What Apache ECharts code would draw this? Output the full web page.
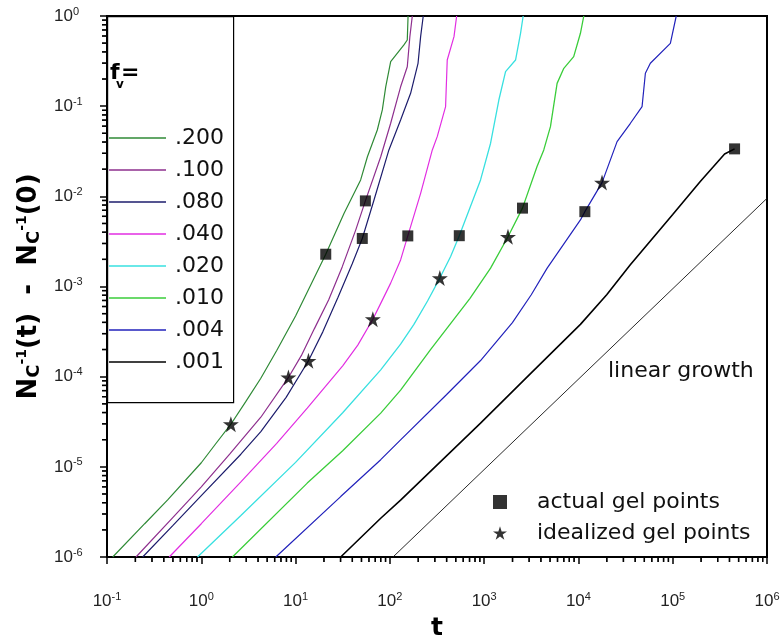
<!DOCTYPE html>
<html><head><meta charset="utf-8">
<script src="https://cdn.jsdelivr.net/npm/echarts@6/dist/echarts.min.js"></script>
<style>html,body{margin:0;padding:0;background:#fff}#c{width:784px;height:642px}</style>
</head><body><div id="c"></div>
<script>
// ---- data (t, N_c^-1(t) - N_c^-1(0)) ----
const seriesNames = ['.200', '.100', '.080', '.040', '.020', '.010', '.004', '.001'];
const f200 = [[0.115,1e-6],[0.251,2.34e-6],[0.44,4.3e-6],[1.0,1.11e-5],[1.41,1.78e-5],[2.06,2.97e-5],[2.95,5.25e-5],[4.28,9.6e-5],[6.31,1.95e-4],[10,4.7e-4],[20.9,2.28e-3],[32.7,6.5e-3],[49,0.0152],[57.8,0.0275],[73.6,0.0544],[83.2,0.0908],[90.4,0.164],[102,0.311],[141,0.478],[153,0.542],[156,1.0]];
const f100 = [[0.203,1e-6],[0.501,2.75e-6],[1.0,6.0e-6],[2.0,1.38e-5],[4.28,3.55e-5],[8.4,9.8e-5],[11.5,1.71e-4],[15.8,3.39e-4],[22.4,7.1e-4],[31.3,1.66e-3],[43.5,4.25e-3],[55,8.9e-3],[80,0.0275],[102,0.0646],[130,0.164],[153,0.274],[163,0.59],[173,1.0]];
const f080 = [[0.239,1e-6],[0.501,2.24e-6],[1.0,4.8e-6],[2.63,1.38e-5],[4.28,2.46e-5],[7.94,5.9e-5],[13.7,1.5e-4],[19.5,3.16e-4],[28.2,7.6e-4],[39.8,1.78e-3],[51,3.41e-3],[67.9,9.1e-3],[97.7,0.0327],[130,0.0703],[166,0.139],[199,0.299],[212,0.59],[226,1.0]];
const f040 = [[0.457,1e-6],[1.0,2.34e-6],[2.63,6.8e-6],[6.31,1.82e-5],[13.3,4.47e-5],[31.6,1.32e-4],[45.7,2.24e-4],[66,4.34e-4],[80,6.5e-4],[102,1.09e-3],[130,1.97e-3],[155,3.64e-3],[212,0.0108],[282,0.0327],[318,0.0459],[390,0.0989],[406,0.325],[479,0.59],[511,1.0]];
const f020 = [[0.912,1e-6],[2.63,2.88e-6],[10,1.12e-5],[31.6,3.98e-5],[80,1.19e-4],[130,2.29e-4],[180,3.8e-4],[251,6.9e-4],[339,1.24e-3],[441,2.15e-3],[545,3.66e-3],[916,0.0152],[1170,0.0388],[1432,0.117],[1687,0.242],[2153,0.325],[2432,0.643],[2594,1.0]];
const f010 = [[2.14,1e-6],[13.3,6.6e-6],[31.6,1.51e-5],[80,3.94e-5],[130,7.1e-5],[270,2.0e-4],[708,7.4e-4],[1170,1.6e-3],[1790,3.56e-3],[2550,7.4e-3],[3640,0.0214],[4290,0.0327],[5050,0.0593],[5940,0.179],[7000,0.263],[8910,0.354],[10500,0.643],[11400,1.0]];
const f004 = [[6.17,1e-6],[30.1,4.68e-6],[80,1.2e-5],[130,1.99e-5],[398,6.3e-5],[916,1.51e-4],[1995,3.98e-4],[3160,8.1e-4],[4660,1.6e-3],[10500,5.47e-3],[11700,6.76e-3],[17800,0.0142],[25700,0.0404],[35600,0.0646],[47300,0.0989],[51300,0.232],[57900,0.299],[94400,0.498],[109000,1.0]];
const f001 = [[30.1,1e-6],[80,2.69e-6],[130,4.27e-6],[916,3.05e-5],[3160,1.1e-4],[10500,3.8e-4],[19950,8.1e-4],[35500,1.74e-3],[1e5,6.3e-3],[1.96e5,0.0146],[2.71e5,0.0214],[3.55e5,0.0295],[4.53e5,0.0336]];
const linearGrowth = [[108,1e-6],[1e6,9.5e-3]];
const actualGel = [[20.9,2.28e-3],[55,8.9e-3],[51,3.41e-3],[155,3.64e-3],[545,3.66e-3],[2550,7.4e-3],[11700,6.76e-3],[4.53e5,0.0336]];
const idealGel = [[2.06,2.97e-5],[8.4,9.8e-5],[13.7,1.5e-4],[66,4.34e-4],[339,1.24e-3],[1790,3.56e-3],[17800,0.0142]];
const minorMultipliers = [2,3,4,5,6,7,8,9];
const xDecades = [0.1,1,10,100,1000,1e4,1e5];
const yDecades = [1e-6,1e-5,1e-4,1e-3,1e-2,1e-1];
const xMin = 0.1, xMax = 1e6, yMin = 1e-6, yMax = 1;

// ---- styles ----
const curves = [f200,f100,f080,f040,f020,f010,f004,f001];
const colors = ['#2f8a36','#8e2f8e','#1c1c6c','#e22ee2','#38e0e0','#3acd3a','#2222bb','#000000'];
const widths = [1.2,1.2,1.2,1.2,1.3,1.3,1.2,1.6];
const TXT = 'DejaVu Sans';
const TICKF = 'Liberation Sans';
const MINOR_LEN = 5;

const chart = echarts.init(document.getElementById('c'), null, {renderer:'canvas'});
const expLabel = v => '{b|10}{s|' + Math.round(Math.log10(v)) + '}';
const tickRich = {
  b: {fontFamily:TICKF, fontSize:17, lineHeight:20, color:'#222'},
  s: {fontFamily:TICKF, fontSize:11, lineHeight:12, verticalAlign:'top', color:'#222'}
};

const xMinorVals = [], yMinorVals = [];
xDecades.forEach(d => minorMultipliers.forEach(m => xMinorVals.push(m*d)));
yDecades.forEach(d => minorMultipliers.forEach(m => yMinorVals.push(m*d)));

const series = curves.map((d, i) => ({
  name: seriesNames[i], type:'line', data:d, symbol:'none', showSymbol:false,
  lineStyle:{color:colors[i], width:widths[i]}, itemStyle:{color:colors[i]}, z:3
}));
series.push({name:'linear', type:'line', data:linearGrowth, symbol:'none', lineStyle:{color:'#111', width:0.9}, z:3});
series.push({name:'actual gel points', type:'scatter', data:actualGel, symbol:'rect', symbolSize:11, itemStyle:{color:'#000'}, z:5});
series.push({name:'idealized gel points', type:'scatter', data:idealGel,
  symbol:'path://M50,0 L61.2,34.5 L97.6,34.5 L68.2,55.9 L79.4,90.5 L50,69.1 L20.6,90.5 L31.8,55.9 L2.4,34.5 L38.8,34.5 Z',
  symbolSize:16, itemStyle:{color:'#000'}, z:5});
// minor log ticks (a): marks anchored just inside the axis, offset outward
series.push({name:'minorX', type:'scatter', data:xMinorVals.map(v => [v, yMin*1.001]), clip:false, silent:true,
  symbol:'rect', symbolSize:[1.4, MINOR_LEN], symbolOffset:[0, MINOR_LEN/2], itemStyle:{color:'#000'}, z:7});
series.push({name:'minorY', type:'scatter', data:yMinorVals.map(v => [xMin*1.001, v]), clip:false, silent:true,
  symbol:'rect', symbolSize:[MINOR_LEN, 1.4], symbolOffset:[-MINOR_LEN/2, 0], itemStyle:{color:'#000'}, z:7});

const baseGraphics = [
  {type:'rect', left:107, top:16, shape:{width:126, height:386}, style:{fill:'#fff', stroke:'#000', lineWidth:1.2}, z:1},
  {type:'text', left:110, top:62, style:{text:'f', fontFamily:TXT, fontWeight:'bold', fontSize:22, fill:'#000'}, z:11},
  {type:'text', left:116, top:79, style:{text:'v', fontFamily:TXT, fontWeight:'bold', fontSize:12, fill:'#000'}, z:11},
  {type:'text', left:121, top:62, style:{text:'=', fontFamily:TXT, fontWeight:'bold', fontSize:22, fill:'#000'}, z:11},
  {type:'text', left:608, top:360, style:{text:'linear growth', fontFamily:TXT, fontSize:22, fill:'#111'}, z:11}
];

chart.setOption({
  animation:false,
  backgroundColor:'#fff',
  grid:{left:107, right:17, top:16, bottom:85, outerBoundsMode:'none', containLabel:false,
        show:true, borderColor:'#000', borderWidth:2, backgroundColor:'transparent'},
  xAxis:{type:'log', logBase:10, min:xMin, max:xMax, splitNumber:7,
    name:'t', nameLocation:'middle', nameGap:59,
    nameTextStyle:{fontFamily:TXT, fontWeight:'bold', fontSize:25, color:'#000'},
    axisLine:{lineStyle:{color:'#000', width:2}},
    axisTick:{length:7, lineStyle:{color:'#000', width:1.5}},
    axisLabel:{margin:34, formatter:expLabel, rich:tickRich},
    splitLine:{show:false}},
  yAxis:{type:'log', logBase:10, min:yMin, max:yMax, splitNumber:6,
    name:'{n|N}{c|C}{s|-1}{n|(t)  -  N}{c|C}{s|-1}{n|(0)}', nameLocation:'middle', nameGap:64,
    nameTextStyle:{rich:{
      n:{fontFamily:TXT, fontWeight:'bold', fontSize:26, lineHeight:28, color:'#000'},
      c:{fontFamily:TXT, fontWeight:'bold', fontSize:18, lineHeight:17, verticalAlign:'bottom', color:'#000'},
      s:{fontFamily:TXT, fontWeight:'bold', fontSize:14, lineHeight:14, verticalAlign:'top', color:'#000'}}},
    axisLine:{lineStyle:{color:'#000', width:2}},
    axisTick:{length:7, lineStyle:{color:'#000', width:1.5}},
    axisLabel:{margin:53, align:'left', formatter:expLabel, rich:tickRich},
    splitLine:{show:false}},
  legend:[
    {data:seriesNames, left:109, top:127, orient:'vertical', padding:0, itemWidth:57, itemHeight:1.6, itemGap:10,
     icon:'rect', selectedMode:false, textStyle:{fontFamily:TXT, fontSize:22, lineHeight:22, color:'#111', padding:[0,0,0,4]}, z:10},
    {data:['actual gel points','idealized gel points'], left:493, top:491, orient:'vertical', padding:0,
     itemWidth:14, itemHeight:14, itemGap:9, selectedMode:false,
     textStyle:{fontFamily:TXT, fontSize:22, lineHeight:22, color:'#111', padding:[0,0,0,25]}, z:10}
  ],
  graphic: baseGraphics,
  series:series
});

// minor log ticks (b): same positions, converted through the series' own coordinate system
const extra = [];
const toPx = (pt) => {
  let p = null;
  try { p = chart.convertToPixel({seriesIndex:0}, pt); } catch (e) { p = null; }
  return (p && isFinite(p[0]) && isFinite(p[1])) ? p : null;
};
xMinorVals.forEach(v => { const p = toPx([v, yMin]); if (p) extra.push({type:'line', silent:true, z:20,
  shape:{x1:p[0], y1:p[1], x2:p[0], y2:p[1] + MINOR_LEN}, style:{stroke:'#000', lineWidth:1.4}}); });
yMinorVals.forEach(v => { const p = toPx([xMin, v]); if (p) extra.push({type:'line', silent:true, z:20,
  shape:{x1:p[0], y1:p[1], x2:p[0] - MINOR_LEN, y2:p[1]}, style:{stroke:'#000', lineWidth:1.4}}); });
if (extra.length) chart.setOption({graphic: baseGraphics.concat(extra)});
</script>
</body></html>
